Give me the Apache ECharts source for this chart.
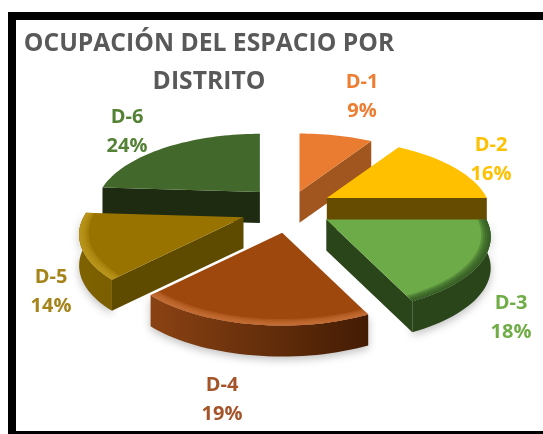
<!DOCTYPE html>
<html>
<head>
<meta charset="utf-8">
<style>
  html, body { margin: 0; padding: 0; background: #fff; }
  #chart { width: 543px; height: 434px; }
</style>
</head>
<body>
<div id="chart"></div>
<script src="https://cdn.jsdelivr.net/npm/echarts@6/dist/echarts.min.js"></script>
<script>
// datos
const categories = ['D-1', 'D-2', 'D-3', 'D-4', 'D-5', 'D-6'];
const shares = [9, 16, 18, 19, 14, 24];

// colores de cada porcion
const topColors = ['#E97C30', '#FFC000', '#6CAB48', '#9E480E', '#997300', '#43682B'];
const wallColors = ['#A0561E', '#664C00', '#2B451B', '#8A4213', '#7F6200', '#1E2B10'];
const cutColors = ['#A0561E', '#664C00', '#2B451B', '#7A3A10', '#5F4B00', '#1E2B10'];
const rimColors = ['#E97C30', '#D9A400', '#2F5220', '#C9743A', '#C09A20', '#43682B'];
const rimDark = ['#8A4A18', '#664C00', '#2B451B', '#431C04', '#7A5E00', '#1E2B10'];
const labelColors = ['#ED7D31', '#FFC000', '#70AD47', '#A5542A', '#A5841A', '#548235'];

// geometria del pie (perspectiva simple)
const pieX = 290, pieY = 208;
const radiusX = 160, radiusY = 71.5, persp = 0.23, depth = 31;
const explode = [34, 42, 43, 50, 50, 44];
const drawOrder = [5, 0, 1, 2, 4, 3]; // de atras hacia adelante
const cutEdge = ['to', 'to', 'to', null, 'from', 'from']; // corte visible de cada porcion
const labelPos = [[362, 97], [491, 160], [511, 318], [222, 400], [51, 292], [127, 132]];

const total = shares.reduce((a, b) => a + b, 0);

// convierte angulo (0 arriba, sentido horario) y radio relativo a pantalla
const project = (ax, ay, deg, r) => {
  const a = deg * Math.PI / 180;
  const u = Math.sin(a) * r, v = -Math.cos(a) * r;
  const w = 1 - persp * v;
  return [ax + u * radiusX / w, ay + v * radiusY / w];
};

const arcPoints = (ax, ay, from, to, r) => {
  const pts = [];
  const n = Math.ceil((to - from) / 2);
  for (let i = 0; i <= n; i++) pts.push(project(ax, ay, from + (to - from) * i / n, r));
  return pts;
};

const down = (pts) => pts.map(p => [p[0], p[1] + depth]);
const poly = (points, fill, z2, extra) => ({
  type: 'polygon',
  z2: z2,
  shape: { points: points },
  style: Object.assign({ fill: fill }, extra || {})
});
const hGrad = (pts, c0, c1) => {
  const xs = pts.map(p => p[0]);
  return new echarts.graphic.LinearGradient(Math.min(...xs), 0, Math.max(...xs), 0, [
    { offset: 0, color: c0 }, { offset: 1, color: c1 }
  ], true);
};

const renderSlice = (params, api) => {
  const i = api.value(0);
  const before = shares.slice(0, i).reduce((a, b) => a + b, 0);
  const from = before / total * 360, to = (before + api.value(1)) / total * 360;
  const mid = (from + to) / 2 * Math.PI / 180;
  const ax = pieX + explode[i] * Math.sin(mid);
  const ay = pieY - explode[i] * Math.cos(mid) * 0.5;
  const z = drawOrder.indexOf(i) * 20;
  const apex = [ax, ay];
  const children = [];

  // pared exterior, solo la parte que mira al frente
  const frontFrom = Math.max(from, 90), frontTo = i === 4 ? to : Math.min(to, 270);
  if (frontTo > frontFrom) {
    const front = arcPoints(ax, ay, frontFrom, frontTo, 1);
    const wall = front.concat(down(front).reverse());
    children.push(poly(wall, hGrad(wall, wallColors[i], rimDark[i]), z + 1, {
      shadowBlur: 8, shadowColor: 'rgba(0,0,0,0.25)', shadowOffsetY: 3
    }));
  }

  // pared del corte radial
  if (cutEdge[i]) {
    const e = project(ax, ay, cutEdge[i] === 'to' ? to : from, 1);
    children.push(poly([apex, e, [e[0], e[1] + depth], [ax, ay + depth]], cutColors[i], z + 2));
  }

  // cara superior
  children.push(poly([apex].concat(arcPoints(ax, ay, from, to, 1)), topColors[i], z + 3));

  // bisel suave junto al borde frontal
  if (frontTo > frontFrom) {
    for (let k = 0; k < 5; k++) {
      const outer = arcPoints(ax, ay, frontFrom, frontTo, 1);
      const inner = arcPoints(ax, ay, frontFrom, frontTo, 0.945 + k * 0.011);
      children.push(poly(outer.concat(inner.reverse()), rimColors[i], z + 4 + k, { opacity: 0.3 }));
    }
  }

  // etiqueta
  children.push({
    type: 'text',
    z2: 200,
    style: {
      x: labelPos[i][0],
      y: labelPos[i][1],
      text: categories[i] + '\n' + api.value(1) + '%',
      fill: labelColors[i],
      font: 'bold 20px "Open Sans", sans-serif',
      lineHeight: 29,
      align: 'center',
      verticalAlign: 'middle'
    }
  });
  return { type: 'group', children: children };
};

const chart = echarts.init(document.getElementById('chart'), null, { renderer: 'canvas' });
chart.setOption({
  animation: false,
  backgroundColor: '#fff',
  title: {
    text: 'OCUPACIÓN DEL ESPACIO POR\nDISTRITO',
    left: 204,
    top: 20,
    textAlign: 'center',
    textStyle: {
      color: '#595959',
      fontFamily: '"Open Sans", sans-serif',
      fontWeight: 'bold',
      fontSize: 24.7,
      lineHeight: 38
    }
  },
  graphic: [{
    type: 'rect',
    silent: true,
    z: 50,
    shape: { x: 12, y: 16, width: 560, height: 419 },
    style: { fill: 'none', stroke: '#000', lineWidth: 8 }
  }],
  series: [{
    type: 'custom',
    coordinateSystem: 'none',
    silent: true,
    renderItem: renderSlice,
    data: categories.map((c, i) => ({ name: c, value: [i, shares[i]] }))
  }]
});
</script>
</body>
</html>
